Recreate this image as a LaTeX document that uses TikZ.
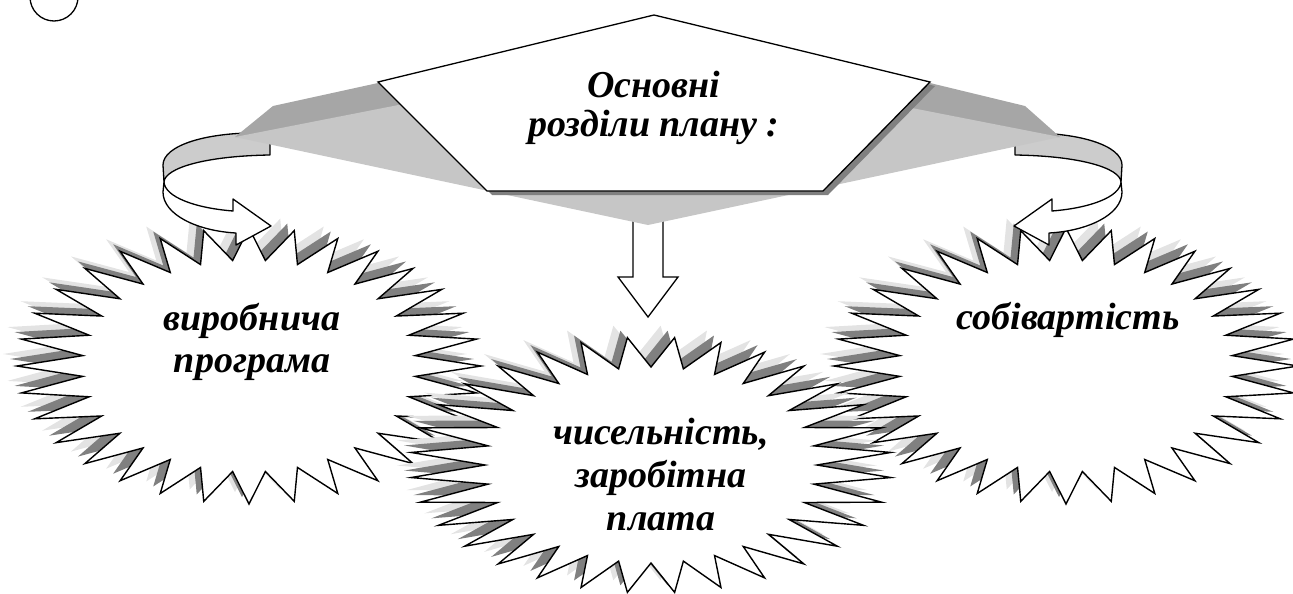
\documentclass[tikz,border=0pt]{standalone}
\usepackage{fontspec}
\setmainfont{Liberation Serif}
\definecolor{shdark}{HTML}{808080}
\definecolor{shlight}{HTML}{E3E3E3}
\definecolor{topgray}{HTML}{A6A6A6}
\definecolor{frontgray}{HTML}{C6C6C6}
\definecolor{facegray}{HTML}{CCCCCC}
\usetikzlibrary{calc}

% outline of a starburst: rx, ry, inner rx, inner ry, phase
\newcommand{\burstpath}[5]{%
  ({#5}:#1 and #2)
  \foreach \k in {1,...,31}{
    -- ({(\k-0.5)*11.25+#5}:#3 and #4) -- ({\k*11.25+#5}:#1 and #2)}
  -- ({31.5*11.25+#5}:#3 and #4) -- cycle}

% starburst with its two shadows
\newcommand{\burst}[6]{%
  \begin{scope}[shift={(#1)}]
    \fill[shlight, shift={(-14,-12)}] \burstpath{#2}{#3}{#4}{#5}{#6};
    \fill[shdark, shift={(-7,-7)}] \burstpath{#2}{#3}{#4}{#5}{#6};
    \path[starline] \burstpath{#2}{#3}{#4}{#5}{#6};
  \end{scope}}

% curled band arrow (left hand one)
\newcommand{\loopband}{%
  \filldraw[band, fill=facegray] (270,133) .. controls (205,131) and (163,146) .. (163,165)
    -- (164,182) .. controls (165,168) and (205,156) .. (270,155) -- cycle;
  \filldraw[band, fill=white] (164,182) -- (163,192)
    .. controls (163,215) and (198,231) .. (236,233)
    -- (236,245) -- (271,226) -- (233,199) -- (233,211)
    .. controls (195,208) and (165,197) .. (164,182) -- cycle;}

\begin{document}
\begin{tikzpicture}[x=1pt, y=-1pt,
  starline/.style={fill=white, draw=black, line width=1.4pt, line join=miter},
  band/.style={draw=black, line width=1.3pt, line join=round},
  lbl/.style={font=\fontsize{38}{42}\selectfont\bfseries\itshape, align=center, inner sep=0pt},
]
\useasboundingbox (0,0) rectangle (1293,594);
\clip (0,0) rectangle (1293,594);

% starbursts
\burst{249,366}{232}{138}{167}{106}{0}
\burst{1066,366}{232}{138}{167}{106}{0}
\burst{651,465}{241}{128}{166}{98}{5.625}

% arrows
\loopband
\begin{scope}[shift={(1285,0)}, xscale=-1]
  \loopband
\end{scope}
\filldraw[band, fill=white, line join=miter] (633,215) -- (633,277) -- (618,277) -- (648,317)
  -- (678,277) -- (663,277) -- (663,215) -- cycle;

% ribbon behind the title
\fill[topgray] (235,137) -- (273,106) -- (378,83) -- (930,83) -- (1025,106) -- (1060,137) -- cycle;
\fill[frontgray] (235,137) -- (470,91) -- (830,92) -- (1060,137) -- (648,225) -- cycle;

% title pentagon
\fill[shdark] (659,19) -- (383,86) -- (492,195) -- (828,195) -- (935,86) -- cycle;
\filldraw[fill=white, draw=black, line width=1.3pt] (654,15) -- (378,82) -- (487,191)
  -- (823,191) -- (930,82) -- cycle;

\node[lbl, font=\fontsize{38}{39}\selectfont\bfseries\itshape] (hdr) at (654,108) {Основні\\розділи плану :};
\node[lbl] (prod) at (252,342) {виробнича\\програма};
\node[lbl, font=\fontsize{38}{43}\selectfont\bfseries\itshape] (staff) at (661,475) {чисельність,\\заробітна\\плата};
\node[lbl] (cost) at (1068,320) {собівартість};

\draw[line width=1.3pt] (54,-3) circle[radius=24];
\end{tikzpicture}
\end{document}
